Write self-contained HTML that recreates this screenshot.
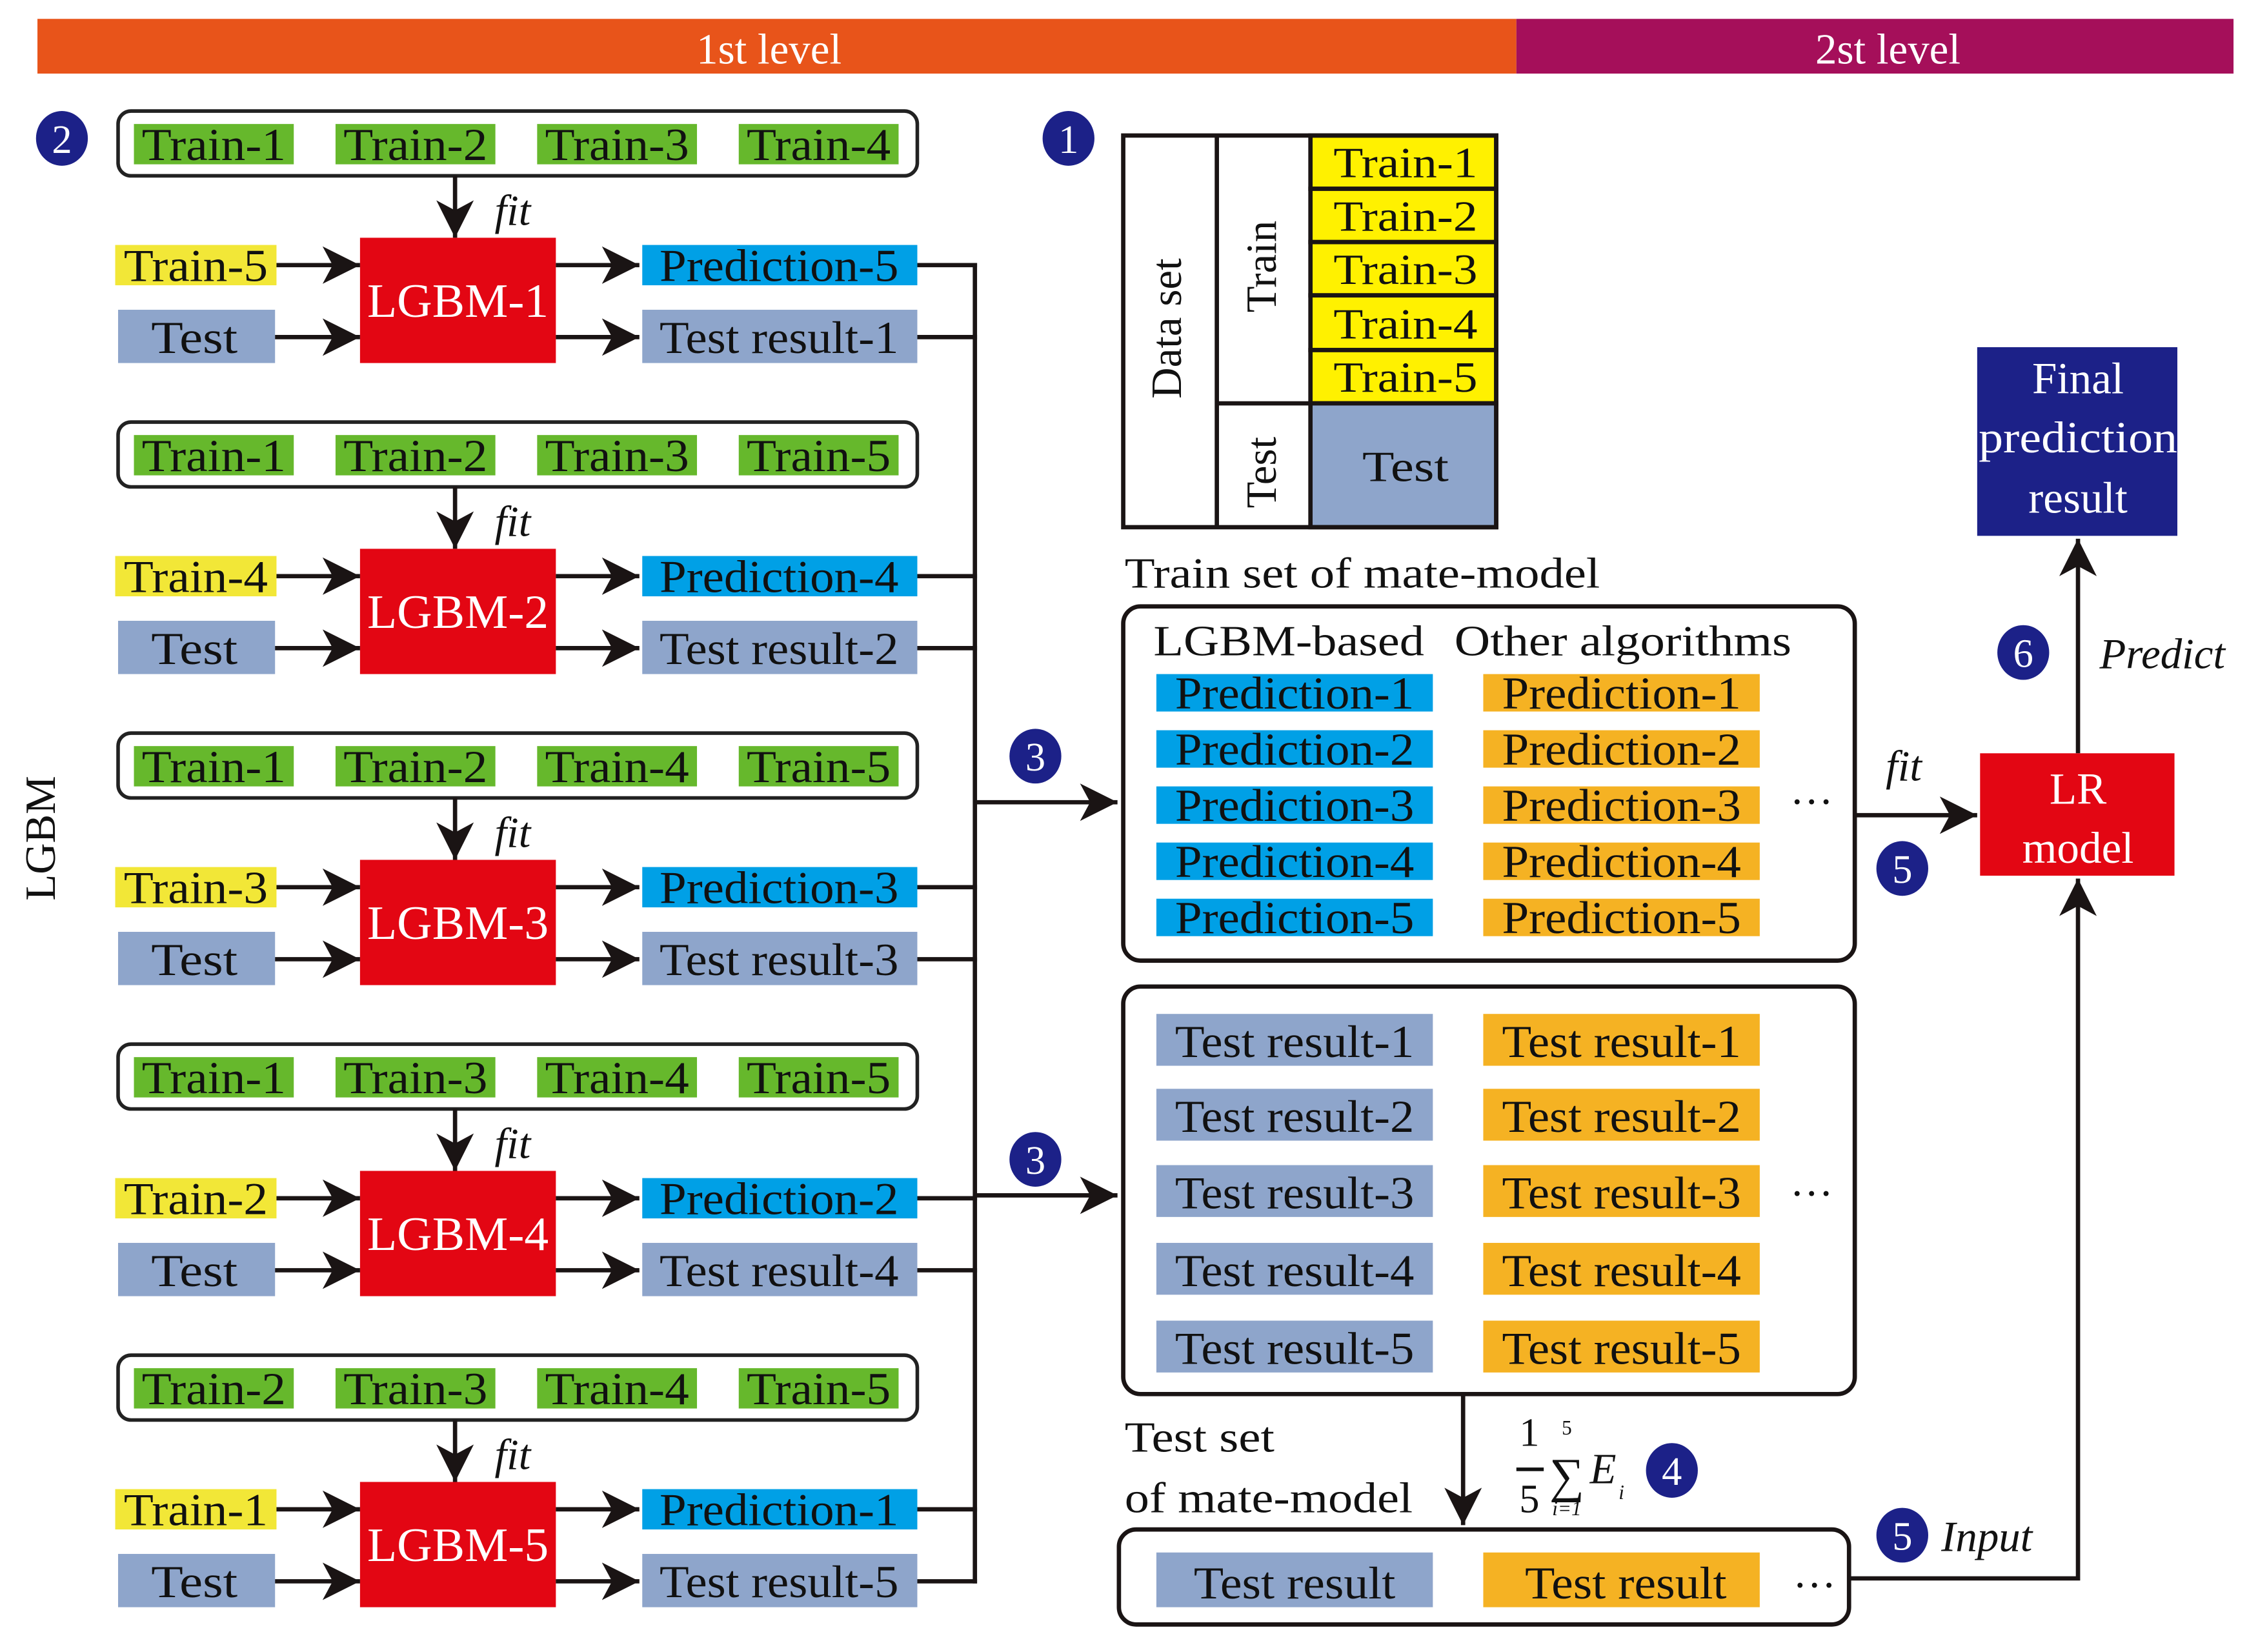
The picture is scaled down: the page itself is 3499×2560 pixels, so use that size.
<!DOCTYPE html>
<html><head><meta charset="utf-8"><style>
html,body{margin:0;padding:0;background:#fff}
svg{display:block}
text{font-family:"Liberation Serif",serif;}
</style></head><body>
<svg width="3499" height="2560" viewBox="0 0 1568 1147" xmlns="http://www.w3.org/2000/svg">
<defs>
<marker id="ah" markerUnits="userSpaceOnUse" markerWidth="30" markerHeight="30" refX="26" refY="13" orient="auto">
<path d="M0,0 L26,13 L0,26 L7,13 Z" fill="#1a1414"/>
</marker>
</defs>
<rect width="1568" height="1147" fill="#fff"/>
<rect x="26" y="13" width="1027" height="38" fill="#E8541A"/>
<rect x="1053" y="13" width="498" height="38" fill="#A50F5A"/>
<text x="534" y="44" font-size="30" fill="#fff" text-anchor="middle">1st level</text>
<text x="1311" y="44" font-size="30" fill="#fff" text-anchor="middle">2st level</text>

<text transform="translate(38,582) rotate(-90)" font-size="30" fill="#111" text-anchor="middle">LGBM</text>

<g id="groups" stroke-linecap="butt"></g>

<g stroke="#1a1414" stroke-width="3" fill="none">
<line x1="677" y1="182.5" x2="677" y2="1099.5"/>
<line x1="677" y1="557" x2="776" y2="557" marker-end="url(#ah)"/>
<line x1="677" y1="830" x2="776" y2="830" marker-end="url(#ah)"/>
</g>

<g font-size="28" fill="#fff" text-anchor="middle">
<ellipse cx="43" cy="96" rx="18" ry="19" fill="#1C2188"/><text x="43" y="106">2</text>
<ellipse cx="742" cy="96" rx="18" ry="19" fill="#1C2188"/><text x="742" y="106">1</text>
<ellipse cx="719" cy="525" rx="18" ry="19" fill="#1C2188"/><text x="719" y="535">3</text>
<ellipse cx="719" cy="805" rx="18" ry="19" fill="#1C2188"/><text x="719" y="815">3</text>
<ellipse cx="1161" cy="1021" rx="18" ry="19" fill="#1C2188"/><text x="1161" y="1031">4</text>
<ellipse cx="1321" cy="603" rx="18" ry="19" fill="#1C2188"/><text x="1321" y="613">5</text>
<ellipse cx="1321" cy="1066" rx="18" ry="19" fill="#1C2188"/><text x="1321" y="1076">5</text>
<ellipse cx="1405" cy="453" rx="18" ry="19" fill="#1C2188"/><text x="1405" y="463">6</text>
</g>

<g stroke="#1a1414" stroke-width="3">
<rect x="910" y="94" width="129" height="37" fill="#FFF100"/>
<rect x="910" y="131" width="129" height="37" fill="#FFF100"/>
<rect x="910" y="168" width="129" height="37" fill="#FFF100"/>
<rect x="910" y="205" width="129" height="38" fill="#FFF100"/>
<rect x="910" y="243" width="129" height="37" fill="#FFF100"/>
<rect x="910" y="280" width="129" height="86" fill="#8EA5CB"/>
<rect x="780" y="94" width="259" height="272" fill="none"/>
<line x1="845" y1="94" x2="845" y2="366"/>
<line x1="845" y1="280" x2="910" y2="280"/>
</g>
<g font-size="30" fill="#111" text-anchor="middle">
<text x="976" y="123" textLength="100" lengthAdjust="spacingAndGlyphs">Train-1</text>
<text x="976" y="160" textLength="100" lengthAdjust="spacingAndGlyphs">Train-2</text>
<text x="976" y="197" textLength="100" lengthAdjust="spacingAndGlyphs">Train-3</text>
<text x="976" y="235" textLength="100" lengthAdjust="spacingAndGlyphs">Train-4</text>
<text x="976" y="272" textLength="100" lengthAdjust="spacingAndGlyphs">Train-5</text>
<text x="976" y="334" textLength="60" lengthAdjust="spacingAndGlyphs">Test</text>
<text transform="translate(820,228) rotate(-90)">Data set</text>
<text transform="translate(886,185) rotate(-90)">Train</text>
<text transform="translate(886,328) rotate(-90)">Test</text>
</g>

<text x="781" y="408" font-size="30" fill="#111" textLength="330" lengthAdjust="spacingAndGlyphs">Train set of mate-model</text>
<rect x="780" y="421" width="508" height="246" rx="12" fill="none" stroke="#1a1414" stroke-width="3"/>
<text x="801" y="455" font-size="30" fill="#111" textLength="188" lengthAdjust="spacingAndGlyphs">LGBM-based</text>
<text x="1010" y="455" font-size="30" fill="#111" textLength="234" lengthAdjust="spacingAndGlyphs">Other algorithms</text>
<g id="predrows"></g>
<text x="1258" y="558" font-size="30" fill="#111" text-anchor="middle">…</text>

<rect x="780" y="685" width="508" height="283" rx="12" fill="none" stroke="#1a1414" stroke-width="3"/>
<g id="testrows"></g>
<text x="1258" y="830" font-size="30" fill="#111" text-anchor="middle">…</text>

<line x1="1016" y1="968" x2="1016" y2="1059" stroke="#1a1414" stroke-width="3" marker-end="url(#ah)"/>
<text x="781" y="1008" font-size="30" fill="#111" textLength="104" lengthAdjust="spacingAndGlyphs">Test set</text>
<text x="781" y="1050" font-size="30" fill="#111" textLength="200" lengthAdjust="spacingAndGlyphs">of mate-model</text>
<g fill="#111">
<text x="1062" y="1004" font-size="28" text-anchor="middle">1</text>
<rect x="1053" y="1019" width="19" height="2.5"/>
<text x="1062" y="1050" font-size="28" text-anchor="middle">5</text>
<text x="1088" y="996" font-size="14" text-anchor="middle">5</text>
<text x="1088" y="1036" font-size="34" text-anchor="middle">∑</text>
<text x="1088" y="1052" font-size="14" text-anchor="middle" font-style="italic">i=1</text>
<text x="1104" y="1030" font-size="30" font-style="italic">E</text>
<text x="1124" y="1041" font-size="14" font-style="italic">i</text>
</g>

<rect x="777" y="1062" width="507" height="66" rx="12" fill="none" stroke="#1a1414" stroke-width="3"/>
<rect x="803" y="1078" width="192" height="38" fill="#8EA5CB"/>
<text x="899" y="1110" font-size="32" fill="#111" text-anchor="middle" textLength="140" lengthAdjust="spacingAndGlyphs">Test result</text>
<rect x="1030" y="1078" width="192" height="38" fill="#F5B223"/>
<text x="1129" y="1110" font-size="32" fill="#111" text-anchor="middle" textLength="140" lengthAdjust="spacingAndGlyphs">Test result</text>
<text x="1260" y="1102" font-size="30" fill="#111" text-anchor="middle">…</text>

<g stroke="#1a1414" stroke-width="3" fill="none">
<line x1="1288" y1="566" x2="1373" y2="566" marker-end="url(#ah)"/>
<polyline points="1284,1096 1443,1096 1443,610" marker-end="url(#ah)"/>
<line x1="1443" y1="523" x2="1443" y2="374" marker-end="url(#ah)"/>
</g>
<text x="1322" y="542" font-size="30" font-style="italic" fill="#111" text-anchor="middle">fit</text>
<text x="1348" y="1077" font-size="30" font-style="italic" fill="#111">Input</text>
<text x="1458" y="464" font-size="30" font-style="italic" fill="#111">Predict</text>
<rect x="1375" y="523" width="135" height="85" fill="#E30613"/>
<text x="1443" y="558" font-size="31" fill="#fff" text-anchor="middle">LR</text>
<text x="1443" y="599" font-size="31" fill="#fff" text-anchor="middle">model</text>
<rect x="1373" y="241" width="139" height="131" fill="#1C2188"/>
<text x="1443" y="273" font-size="31" fill="#fff" text-anchor="middle">Final</text>
<text x="1443" y="314" font-size="31" fill="#fff" text-anchor="middle" textLength="138" lengthAdjust="spacingAndGlyphs">prediction</text>
<text x="1443" y="356" font-size="31" fill="#fff" text-anchor="middle">result</text>
</svg>
<script>
(function(){
var NS="http://www.w3.org/2000/svg";
function el(p,t,a,txt){var e=document.createElementNS(NS,t);for(var k in a)e.setAttribute(k,a[k]);if(txt!==undefined)e.textContent=txt;p.appendChild(e);return e;}
var g=document.getElementById("groups");
var sets=[[1,2,3,4],[1,2,3,5],[1,2,4,5],[1,3,4,5],[2,3,4,5]];
var gx=[93,233,373,513];
for(var k=0;k<5;k++){
 var o=216*k;
 el(g,"rect",{x:82,y:77+o,width:555,height:45,rx:9,fill:"none",stroke:"#222","stroke-width":2.5});
 for(var j=0;j<4;j++){
  el(g,"rect",{x:gx[j],y:86+o,width:111,height:28,fill:"#66B82C"});
  el(g,"text",{x:gx[j]+55.5,y:111+o,"font-size":32,fill:"#111","text-anchor":"middle",textLength:100,lengthAdjust:"spacingAndGlyphs"},"Train-"+sets[k][j]);
 }
 el(g,"line",{x1:316,y1:122+o,x2:316,y2:165+o,stroke:"#1a1414","stroke-width":3,"marker-end":"url(#ah)"});
 el(g,"text",{x:356,y:156+o,"font-size":30,"font-style":"italic",fill:"#111","text-anchor":"middle"},"fit");
 el(g,"rect",{x:80,y:170+o,width:112,height:28,fill:"#F2E737"});
 el(g,"text",{x:136,y:195+o,"font-size":32,fill:"#111","text-anchor":"middle",textLength:100,lengthAdjust:"spacingAndGlyphs"},"Train-"+(5-k));
 el(g,"rect",{x:82,y:215+o,width:109,height:37,fill:"#8EA5CB"});
 el(g,"text",{x:135,y:245+o,"font-size":32,fill:"#111","text-anchor":"middle",textLength:60,lengthAdjust:"spacingAndGlyphs"},"Test");
 el(g,"rect",{x:250,y:165+o,width:136,height:87,fill:"#E30613"});
 el(g,"text",{x:318,y:220+o,"font-size":33,fill:"#fff","text-anchor":"middle",textLength:126,lengthAdjust:"spacingAndGlyphs"},"LGBM-"+(k+1));
 [[192,250,184],[191,250,234],[386,444,184],[386,444,234]].forEach(function(a){
  el(g,"line",{x1:a[0],y1:a[2]+o,x2:a[1],y2:a[2]+o,stroke:"#1a1414","stroke-width":3,"marker-end":"url(#ah)"});
 });
 el(g,"rect",{x:446,y:170+o,width:191,height:28,fill:"#00A0E6"});
 el(g,"text",{x:541,y:195+o,"font-size":32,fill:"#111","text-anchor":"middle",textLength:166,lengthAdjust:"spacingAndGlyphs"},"Prediction-"+(5-k));
 el(g,"rect",{x:446,y:215+o,width:191,height:37,fill:"#8EA5CB"});
 el(g,"text",{x:541,y:245+o,"font-size":32,fill:"#111","text-anchor":"middle",textLength:166,lengthAdjust:"spacingAndGlyphs"},"Test result-"+(k+1));
 el(g,"line",{x1:637,y1:184+o,x2:678.5,y2:184+o,stroke:"#1a1414","stroke-width":3});
 el(g,"line",{x1:637,y1:234+o,x2:678.5,y2:234+o,stroke:"#1a1414","stroke-width":3});
}
var p=document.getElementById("predrows");
var py=[481,520,559,598,637];
for(var i=0;i<5;i++){
 el(p,"rect",{x:803,y:py[i]-13,width:192,height:26,fill:"#00A0E6"});
 el(p,"text",{x:899,y:py[i]+11,"font-size":32,fill:"#111","text-anchor":"middle",textLength:166,lengthAdjust:"spacingAndGlyphs"},"Prediction-"+(i+1));
 el(p,"rect",{x:1030,y:py[i]-13,width:192,height:26,fill:"#F5B223"});
 el(p,"text",{x:1126,y:py[i]+11,"font-size":32,fill:"#111","text-anchor":"middle",textLength:166,lengthAdjust:"spacingAndGlyphs"},"Prediction-"+(i+1));
}
var t=document.getElementById("testrows");
var ty=[722,774,827,881,935];
for(var i=0;i<5;i++){
 el(t,"rect",{x:803,y:ty[i]-18,width:192,height:36,fill:"#8EA5CB"});
 el(t,"text",{x:899,y:ty[i]+12,"font-size":32,fill:"#111","text-anchor":"middle",textLength:166,lengthAdjust:"spacingAndGlyphs"},"Test result-"+(i+1));
 el(t,"rect",{x:1030,y:ty[i]-18,width:192,height:36,fill:"#F5B223"});
 el(t,"text",{x:1126,y:ty[i]+12,"font-size":32,fill:"#111","text-anchor":"middle",textLength:166,lengthAdjust:"spacingAndGlyphs"},"Test result-"+(i+1));
}
})();
</script>
</body></html>
